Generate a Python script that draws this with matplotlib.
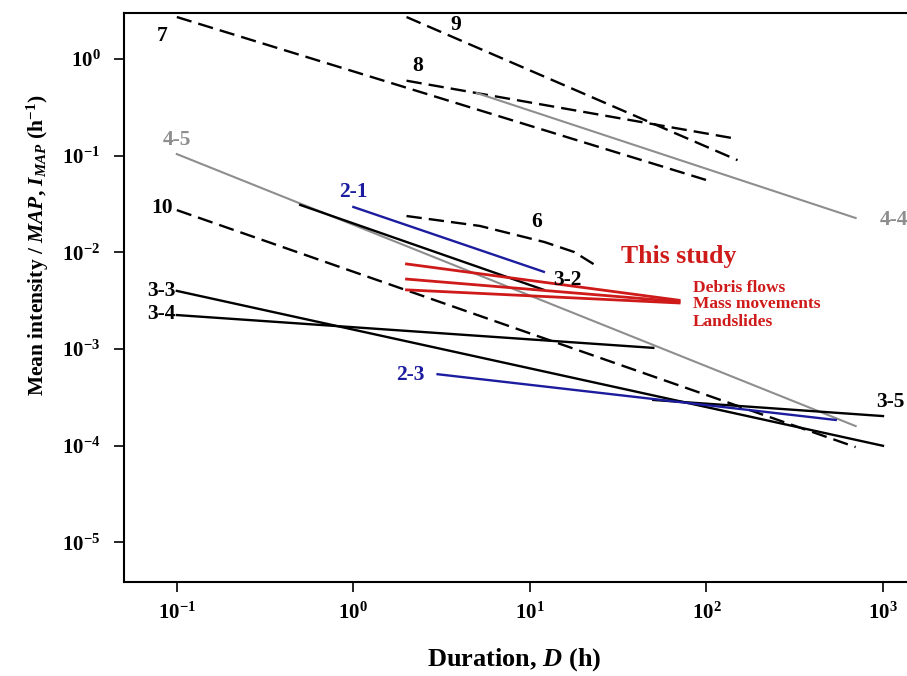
import numpy as np
import matplotlib
matplotlib.use("Agg")
import matplotlib.pyplot as plt

plt.rcParams['font.family'] = ['Liberation Serif', 'DejaVu Serif']
plt.rcParams['font.weight'] = 'bold'
plt.rcParams['mathtext.fontset'] = 'custom'
plt.rcParams['mathtext.rm'] = 'Liberation Serif:bold'
plt.rcParams['mathtext.bf'] = 'Liberation Serif:bold'
plt.rcParams['mathtext.it'] = 'Liberation Serif:italic:bold'

# threshold lines (x = duration h, y = I/MAP)
x_7 = [0.1, 100];      y_7 = [2.72, 0.056]
x_9 = [2, 150];        y_9 = [2.72, 0.090]
x_8 = [2, 150];        y_8 = [0.597, 0.149]
x_44 = [5, 700];       y_44 = [0.445, 0.0227]
x_45 = [0.1, 700];     y_45 = [0.104, 1.6e-4]
x_21 = [1, 12];        y_21 = [0.0295, 0.0063]
x_32 = [0.5, 12];      y_32 = [0.031, 0.0041]
x_6 = [2, 5.2, 12.1, 17.8, 24]
y_6 = [0.0238, 0.0188, 0.0128, 0.0101, 0.0072]
x_10 = [0.1, 700];     y_10 = [0.0274, 9.7e-5]
x_33 = [0.1, 1000];    y_33 = [0.0040, 1.0e-4]
x_34 = [0.1, 50];      y_34 = [0.00225, 0.00103]
x_35 = [50, 1000];     y_35 = [2.98e-4, 2.03e-4]
x_23 = [3, 540];       y_23 = [5.5e-4, 1.85e-4]

# this study
x_study = [2, 70]
y_debris = [0.0076, 0.0032]
y_mass = [0.0053, 0.0031]
y_land = [0.0041, 0.0030]
study_names = ["Debris flows", "Mass movements", "Landslides"]

x_ticks = [0.1, 1, 10, 100, 1000]
x_ticklabels = [r'$\mathrm{10^{-1}}$', r'$\mathrm{10^{0}}$', r'$\mathrm{10^{1}}$',
                r'$\mathrm{10^{2}}$', r'$\mathrm{10^{3}}$']
y_ticks = [1e-5, 1e-4, 1e-3, 1e-2, 1e-1, 1]
y_ticklabels = [r'$\mathrm{10^{-5}}$', r'$\mathrm{10^{-4}}$', r'$\mathrm{10^{-3}}$',
                r'$\mathrm{10^{-2}}$', r'$\mathrm{10^{-1}}$', r'$\mathrm{10^{0}}$']

fig = plt.figure(figsize=(9.07, 6.76), dpi=100)
ax = fig.add_axes([0.1367, 0.139, 0.8633, 0.8417])
ax.set_xscale('log')
ax.set_yscale('log')
ax.set_xlim(0.0502, 1368)
ax.set_ylim(3.9e-6, 2.99)

dash = (0, (6.5, 3))
blk = 'black'
gry = '#8e8e8e'
blu = '#1c1c9e'
red = '#cf1a1a'

ax.plot(x_7, y_7, color=blk, lw=1.7, ls=dash)
ax.plot(x_9, y_9, color=blk, lw=1.7, ls=dash)
ax.plot(x_8, y_8, color=blk, lw=1.7, ls=dash)
ax.plot(x_44, y_44, color=gry, lw=1.5)
ax.plot(x_45, y_45, color=gry, lw=1.5)
ax.plot(x_32, y_32, color=blk, lw=1.7)
ax.plot(x_21, y_21, color=blu, lw=1.7)
ax.plot(x_6, y_6, color=blk, lw=1.7, ls=dash)
ax.plot(x_10, y_10, color=blk, lw=1.7, ls=dash)
ax.plot(x_33, y_33, color=blk, lw=1.7)
ax.plot(x_34, y_34, color=blk, lw=1.7)
ax.plot(x_35, y_35, color=blk, lw=1.7)
ax.plot(x_23, y_23, color=blu, lw=1.7)
for yy in [y_debris, y_mass, y_land]:
    ax.plot(x_study, yy, color=red, lw=2.0)

lab = dict(fontsize=15.5, fontweight='bold', ha='center', va='center')
ax.text(0.083, 1.75, '7', color=blk, **lab)
ax.text(3.8, 2.25, '9', color=blk, **lab)
ax.text(2.3, 0.85, '8', color=blk, **lab)
ax.text(1150, 0.0215, '4-4', color=gry, **lab)
ax.text(0.1, 0.145, '4-5', color=gry, **lab)
ax.text(1.0, 0.042, '2-1', color=blu, **lab)
ax.text(0.082, 0.0285, '10', color=blk, **lab)
ax.text(10.9, 0.0206, '6', color=blk, **lab)
ax.text(16.3, 0.0052, '3-2', color=blk, **lab)
ax.text(0.082, 0.0040, '3-3', color=blk, **lab)
ax.text(0.082, 0.0023, '3-4', color=blk, **lab)
ax.text(2.1, 5.4e-4, '2-3', color=blu, **lab)
ax.text(1100, 2.85e-4, '3-5', color=blk, **lab)
ax.text(70, 0.0090, 'This study', color=red, ha='center', va='center',
        fontsize=18.5, fontweight='bold')
for nm, yy in zip(study_names, [0.00428, 0.00293, 0.00191]):
    ax.text(84, yy, nm, color=red, ha='left', va='center',
            fontsize=12.5, fontweight='bold')

ax.set_xticks(x_ticks)
ax.set_xticklabels(x_ticklabels)
ax.set_yticks(y_ticks)
ax.set_yticklabels(y_ticklabels)
ax.minorticks_off()
ax.tick_params(direction='out', length=7, width=1.2, labelsize=15)
ax.tick_params(axis='x', pad=8)
ax.tick_params(axis='y', pad=10)
ax.spines['right'].set_visible(False)
for s in ['left', 'bottom', 'top']:
    ax.spines[s].set_linewidth(1.5)

fig.text(0.5675, 0.0237, r'Duration, $D$ (h)', ha='center', va='center',
         fontsize=19, fontweight='bold')
fig.text(0.042, 0.6376, r'Mean intensity / $MAP$, $I_{MAP}$ (h$^{-1}$)',
         rotation=90, ha='center', va='center', fontsize=15.5, fontweight='bold')

fig.savefig('out.png', dpi=100)
